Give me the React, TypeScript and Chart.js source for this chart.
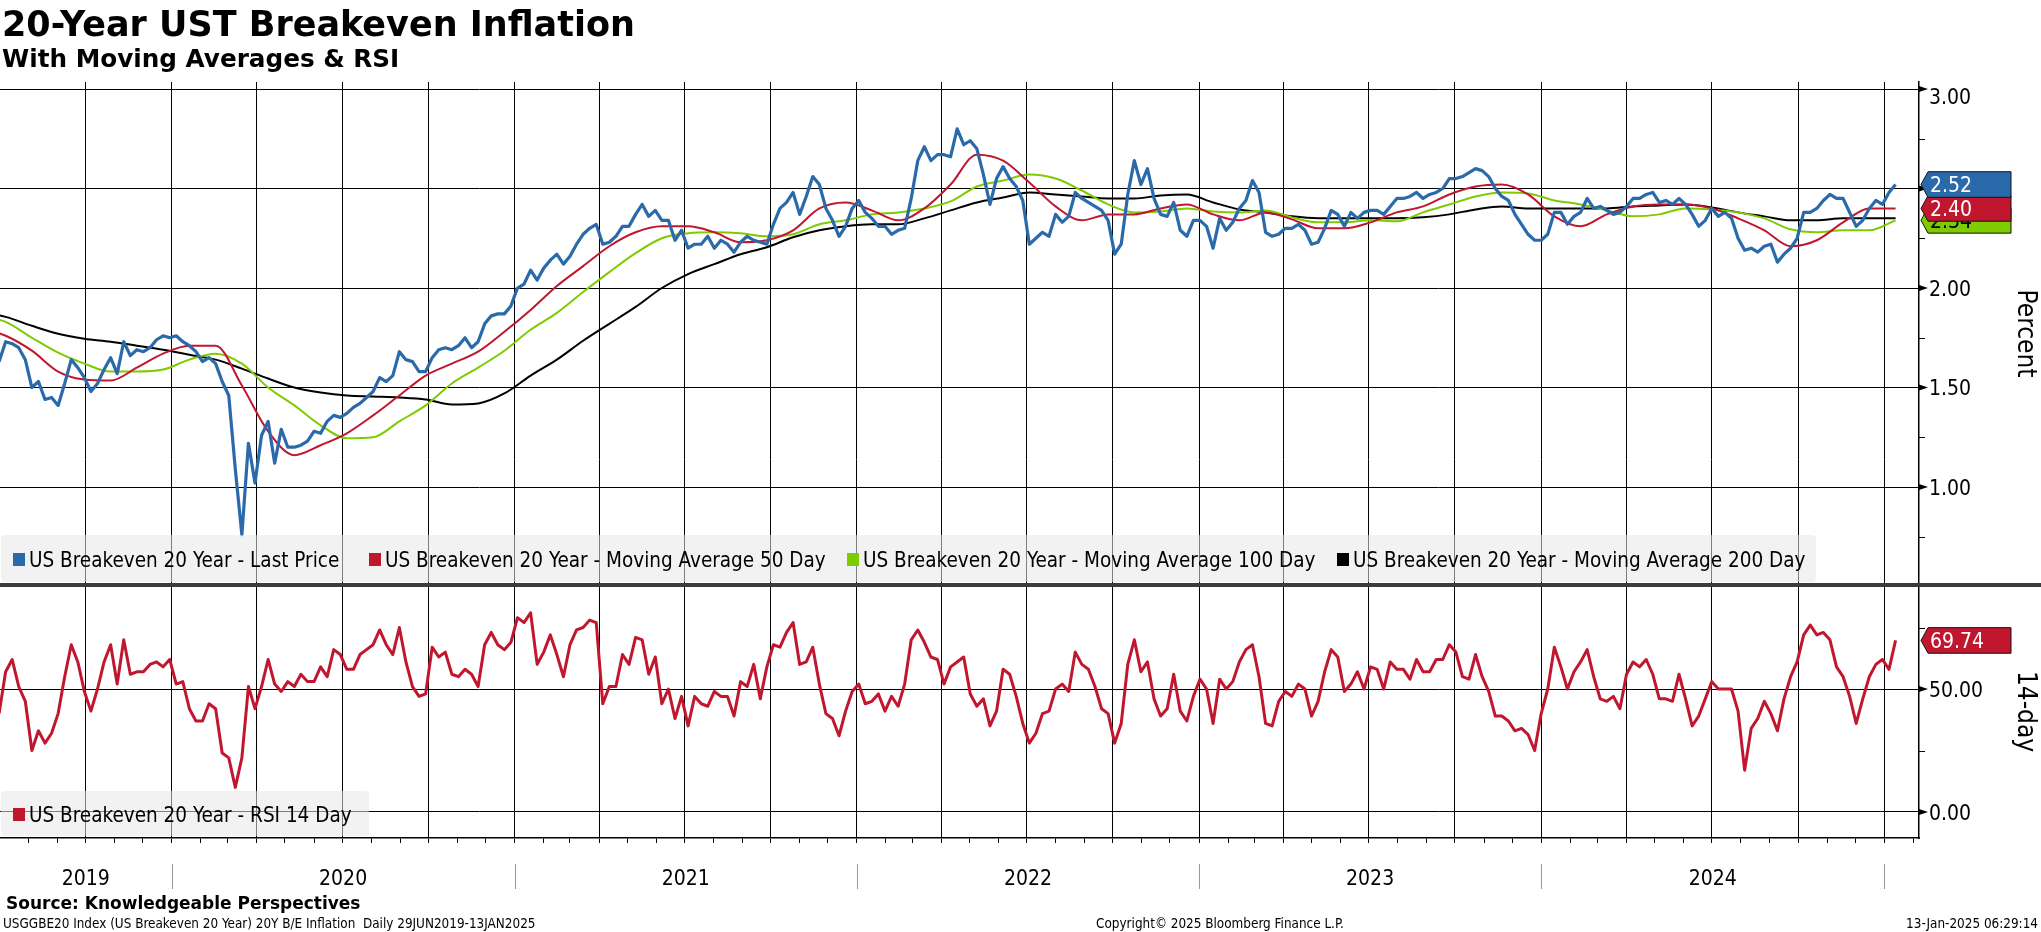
import React, { useEffect, useRef } from 'react';
import { Chart, registerables } from 'chart.js';

Chart.register(...registerables);

// ---------------- data ----------------
// Weekly samples of the daily series, starting on PRICE_START, every PRICE_STEP_DAYS days
const PRICE_START = '2019-07-01';
const PRICE_STEP_DAYS = 7;

const lastPrice = [
  1.63, 1.73, 1.72, 1.70, 1.64, 1.50, 1.53, 1.44, 1.45, 1.41,
  1.52, 1.64, 1.60, 1.55, 1.48, 1.52, 1.59, 1.65, 1.57, 1.73,
  1.66, 1.69, 1.68, 1.70, 1.74, 1.76, 1.75, 1.76, 1.73, 1.71,
  1.68, 1.63, 1.65, 1.62, 1.53, 1.46, 1.09, 0.76, 1.22, 1.02,
  1.26, 1.33, 1.12, 1.29, 1.20, 1.20, 1.21, 1.23, 1.28, 1.27,
  1.33, 1.36, 1.35, 1.37, 1.40, 1.42, 1.45, 1.48, 1.55, 1.53,
  1.56, 1.68, 1.64, 1.63, 1.58, 1.58, 1.65, 1.69, 1.70, 1.69,
  1.71, 1.75, 1.70, 1.73, 1.82, 1.86, 1.87, 1.87, 1.91, 2.00,
  2.02, 2.09, 2.04, 2.10, 2.14, 2.17, 2.12, 2.16, 2.22, 2.27,
  2.30, 2.32, 2.22, 2.23, 2.26, 2.31, 2.31, 2.37, 2.42, 2.36,
  2.39, 2.34, 2.34, 2.24, 2.29, 2.20, 2.22, 2.22, 2.26, 2.20,
  2.24, 2.22, 2.18, 2.23, 2.26, 2.24, 2.23, 2.22, 2.32, 2.40,
  2.43, 2.48, 2.37, 2.46, 2.56, 2.52, 2.40, 2.34, 2.26, 2.31,
  2.40, 2.44, 2.38, 2.35, 2.31, 2.31, 2.27, 2.29, 2.30, 2.45,
  2.64, 2.71, 2.64, 2.67, 2.67, 2.66, 2.80, 2.72, 2.74, 2.70,
  2.57, 2.42, 2.55, 2.61, 2.55, 2.51, 2.44, 2.22, 2.25, 2.28,
  2.26, 2.37, 2.33, 2.36, 2.48, 2.45, 2.43, 2.41, 2.39, 2.34,
  2.17, 2.22, 2.47, 2.64, 2.52, 2.60, 2.45, 2.37, 2.36, 2.43,
  2.29, 2.26, 2.34, 2.34, 2.31, 2.20, 2.35, 2.29, 2.33, 2.40,
  2.44, 2.54, 2.48, 2.28, 2.26, 2.27, 2.30, 2.30, 2.32, 2.29,
  2.22, 2.23, 2.30, 2.39, 2.37, 2.31, 2.38, 2.35, 2.38, 2.39,
  2.39, 2.37, 2.41, 2.45, 2.45, 2.46, 2.48, 2.45, 2.47, 2.48,
  2.50, 2.55, 2.55, 2.56, 2.58, 2.60, 2.59, 2.56, 2.50, 2.46,
  2.44, 2.37, 2.32, 2.27, 2.24, 2.24, 2.27, 2.38, 2.38, 2.32,
  2.36, 2.38, 2.45, 2.40, 2.41, 2.39, 2.37, 2.38, 2.41, 2.45,
  2.45, 2.47, 2.48, 2.43, 2.44, 2.42, 2.45, 2.42, 2.37, 2.31,
  2.34, 2.40, 2.36, 2.38, 2.35, 2.25, 2.19, 2.20, 2.18, 2.21,
  2.22, 2.13, 2.17, 2.20, 2.25, 2.38, 2.38, 2.40, 2.44, 2.47,
  2.45, 2.45, 2.38, 2.31, 2.34, 2.40, 2.44, 2.42, 2.48, 2.52,
];

const rsi14 = [
  40, 57, 62, 51, 45, 25, 33, 28, 32, 40,
  55, 68, 61, 49, 41, 50, 61, 68, 52, 70,
  56, 57, 57, 60, 61, 59, 62, 52, 53, 42,
  37, 37, 44, 42, 24, 22, 10, 22, 51, 42,
  51, 62, 52, 49, 53, 51, 56, 53, 53, 59,
  55, 66, 64, 58, 58, 64, 66, 68, 74, 68,
  64, 75, 61, 51, 47, 48, 67, 63, 65, 56,
  55, 58, 56, 51, 68, 73, 68, 66, 69, 79,
  77, 81, 60, 65, 72, 64, 55, 68, 74, 75,
  78, 77, 44, 51, 51, 64, 60, 71, 70, 56,
  63, 44, 50, 38, 47, 35, 47, 44, 43, 49,
  47, 47, 39, 53, 51, 60, 46, 59, 68, 67,
  73, 77, 60, 61, 67, 52, 40, 38, 31, 41,
  49, 52, 44, 45, 48, 41, 47, 43, 52, 70,
  74, 69, 63, 62, 52, 59, 61, 63, 48, 43,
  46, 35, 41, 58, 56, 47, 36, 28, 32, 40,
  41, 50, 52, 49, 65, 60, 58, 51, 42, 40,
  28, 36, 60, 70, 57, 61, 46, 39, 42, 56,
  41, 37, 47, 54, 50, 36, 54, 50, 53, 61,
  66, 68, 55, 36, 35, 45, 49, 47, 52, 50,
  39, 45, 57, 66, 63, 49, 52, 57, 50, 59,
  58, 50, 61, 58, 58, 54, 62, 57, 57, 62,
  62, 68, 65, 55, 54, 64, 55, 49, 39, 39,
  37, 33, 34, 31.5, 25, 40, 50, 67, 59, 50,
  57, 61, 66, 55, 46, 45, 47, 42, 56, 61,
  59, 62, 56, 46, 46, 45, 56, 46, 35, 39,
  46, 53, 50, 50, 50, 41, 17, 34, 38, 45,
  40, 33, 46, 55, 61, 72, 76, 72, 73, 70,
  59, 55, 47, 36, 46, 55, 60, 62, 58, 69.74,
];

// Moving averages sampled every MA_STEP_DAYS days from MA_START
const MA_START = '2019-06-10';
const MA_STEP_DAYS = 28;

const ma50 = [
  1.80, 1.76, 1.685, 1.58, 1.54, 1.535, 1.60, 1.67, 1.71, 1.71,
  1.51, 1.28, 1.16, 1.21, 1.27, 1.36, 1.46, 1.56, 1.62, 1.68,
  1.78, 1.89, 2.01, 2.11, 2.21, 2.28, 2.31, 2.31, 2.28, 2.23,
  2.24, 2.29, 2.40, 2.43, 2.39, 2.34, 2.40, 2.52, 2.67, 2.64,
  2.53, 2.41, 2.34, 2.37, 2.37, 2.40, 2.42, 2.37, 2.34, 2.38,
  2.345, 2.30, 2.30, 2.33, 2.38, 2.41, 2.47, 2.51, 2.52, 2.47,
  2.36, 2.31, 2.37, 2.41, 2.42, 2.42, 2.40, 2.35, 2.29, 2.21,
  2.24, 2.33, 2.40, 2.40,
];

const ma100 = [
  1.86, 1.83, 1.75, 1.675, 1.62, 1.58, 1.58, 1.59, 1.64, 1.67,
  1.62, 1.50, 1.41, 1.31, 1.245, 1.25, 1.33, 1.41, 1.52, 1.60,
  1.685, 1.79, 1.875, 1.98, 2.08, 2.175, 2.25, 2.275, 2.28, 2.275,
  2.26, 2.27, 2.32, 2.34, 2.37, 2.38, 2.40, 2.435, 2.51, 2.54,
  2.57, 2.55, 2.49, 2.42, 2.38, 2.385, 2.40, 2.385, 2.38, 2.39,
  2.355, 2.33, 2.33, 2.34, 2.335, 2.38, 2.42, 2.46, 2.48, 2.475,
  2.44, 2.42, 2.39, 2.36, 2.37, 2.40, 2.395, 2.38, 2.35, 2.295,
  2.28, 2.29, 2.29, 2.34,
];

const ma200 = [
  1.88, 1.855, 1.81, 1.77, 1.745, 1.73, 1.71, 1.69, 1.665, 1.64,
  1.595, 1.545, 1.50, 1.475, 1.46, 1.455, 1.45, 1.44, 1.415, 1.42,
  1.47, 1.56, 1.64, 1.735, 1.82, 1.905, 2.00, 2.07, 2.12, 2.17,
  2.205, 2.255, 2.29, 2.31, 2.32, 2.32, 2.35, 2.39, 2.43, 2.455,
  2.48, 2.47, 2.46, 2.45, 2.45, 2.465, 2.47, 2.43, 2.395, 2.38,
  2.36, 2.35, 2.35, 2.35, 2.35, 2.355, 2.37, 2.395, 2.41, 2.40,
  2.40, 2.40, 2.40, 2.41, 2.415, 2.42, 2.405, 2.38, 2.36, 2.34,
  2.34, 2.35, 2.35, 2.35,
];

// axis settings
const X_START = '2019-07-02';
const X_END = '2025-02-07';
const PRICE_MIN = 0.5076;
const PRICE_MAX = 3.0352;
const RSI_MIN = -10.57;
const RSI_MAX = 92.28;
const PRICE_TICKS = [0.75, 1.0, 1.25, 1.5, 1.75, 2.0, 2.25, 2.5, 2.75, 3.0];
const RSI_TICKS = [0, 25, 50, 75];
const YEARS = [2019, 2020, 2021, 2022, 2023, 2024, 2025];

const SERIES_NAMES = [
  'US Breakeven 20 Year - Last Price',
  'US Breakeven 20 Year - Moving Average 50 Day',
  'US Breakeven 20 Year - Moving Average 100 Day',
  'US Breakeven 20 Year - Moving Average 200 Day',
];
const RSI_NAME = 'US Breakeven 20 Year - RSI 14 Day';
const TITLE = '20-Year UST Breakeven Inflation';
const SUBTITLE = 'With Moving Averages & RSI';
const SOURCE = 'Source: Knowledgeable Perspectives';
const FOOT_LEFT = 'USGGBE20 Index (US Breakeven 20 Year) 20Y B/E Inflation  Daily 29JUN2019-13JAN2025';
const FOOT_MID = 'Copyright\u00A9 2025 Bloomberg Finance L.P.';
const FOOT_RIGHT = '13-Jan-2025 06:29:14';
const AXIS_TITLE_PRICE = 'Percent';
const AXIS_TITLE_RSI = '14-day';

// ---------------- styling ----------------
const BLUE = '#2a6aab';
const RED = '#c0172f';
const GREEN = '#7dcb00';
const BLACK = '#000000';
const FONT_C = '"DejaVu Sans Condensed", "DejaVu Sans", sans-serif';
const FONT_B = '"DejaVu Sans", sans-serif';

const DAY_MS = 86400000;
function toDay(iso: string): number {
  const [y, m, d] = iso.split('-').map(Number);
  return Date.UTC(y, m - 1, d) / DAY_MS;
}
function points(start: string, step: number, values: number[]) {
  const d0 = toDay(start);
  return values.map((v, i) => ({ x: d0 + i * step, y: v }));
}
function monthTicks(minDay: number, maxDay: number): number[] {
  const out: number[] = [];
  for (let y = 2019; y <= 2025; y++) {
    for (let m = 0; m < 12; m++) {
      const d = Date.UTC(y, m, 1) / DAY_MS;
      if (d >= minDay && d <= maxDay) out.push(d);
    }
  }
  return out;
}
function isQuarterStart(day: number): boolean {
  const dt = new Date(Math.round(day) * DAY_MS);
  return dt.getUTCDate() === 1 && dt.getUTCMonth() % 3 === 0;
}

function drawTag(ctx: CanvasRenderingContext2D, x: number, y: number, right: number, text: string, fill: string, color: string) {
  const half = 12.8;
  const tip = 7;
  ctx.beginPath();
  ctx.moveTo(x, y);
  ctx.lineTo(x + tip, y - half);
  ctx.lineTo(right, y - half);
  ctx.lineTo(right, y + half);
  ctx.lineTo(x + tip, y + half);
  ctx.closePath();
  ctx.fillStyle = fill;
  ctx.fill();
  ctx.lineWidth = 1;
  ctx.strokeStyle = '#141414';
  ctx.stroke();
  ctx.fillStyle = color;
  ctx.font = `21px ${FONT_C}`;
  ctx.textAlign = 'left';
  ctx.textBaseline = 'alphabetic';
  ctx.fillText(text, x + 9, y + 7.6);
}

function drawAxisMarks(ctx: CanvasRenderingContext2D, scale: any, ticks: number[], majorStep: number) {
  const ax = scale.left;
  ctx.font = `21px ${FONT_C}`;
  ctx.textAlign = 'left';
  ctx.textBaseline = 'alphabetic';
  for (const v of ticks) {
    const y = scale.getPixelForValue(v);
    const major = Math.abs(v / majorStep - Math.round(v / majorStep)) < 1e-6;
    ctx.fillStyle = BLACK;
    ctx.strokeStyle = BLACK;
    if (major) {
      ctx.beginPath();
      ctx.moveTo(ax, y - 3);
      ctx.lineTo(ax + 9, y);
      ctx.lineTo(ax, y + 3);
      ctx.closePath();
      ctx.fill();
      const base = y - 7.6 < scale.top + 1 ? y + 15 : y + 7.6;
      ctx.fillText(v.toFixed(2), ax + 10, base);
    } else {
      ctx.lineWidth = 1;
      ctx.beginPath();
      ctx.moveTo(ax, Math.round(y) + 0.5);
      ctx.lineTo(ax + 6, Math.round(y) + 0.5);
      ctx.stroke();
    }
  }
}

function drawLegend(ctx: CanvasRenderingContext2D, box: number[], items: { x: number; color: string; text: string }[], baseline: number) {
  const [bx, by, bw, bh] = box;
  ctx.fillStyle = 'rgba(231,231,231,0.55)';
  ctx.beginPath();
  (ctx as any).roundRect(bx, by, bw, bh, 4);
  ctx.fill();
  ctx.font = `20.5px ${FONT_C}`;
  ctx.textAlign = 'left';
  ctx.textBaseline = 'alphabetic';
  for (const it of items) {
    ctx.fillStyle = it.color;
    ctx.fillRect(it.x, baseline - 14, 12, 13);
    ctx.fillStyle = '#000';
    ctx.fillText(it.text, it.x + 16, baseline);
  }
}

const decorPlugin = {
  id: 'bbgDecor',
  afterDatasetsDraw(chart: any) {
    const ctx: CanvasRenderingContext2D = chart.ctx;
    const yp = chart.scales.yPx;
    const yr = chart.scales.yRsi;
    ctx.save();
    drawLegend(
      ctx,
      [1, yp.bottom - 50, 1815, 47],
      [
        { x: 13, color: BLUE, text: SERIES_NAMES[0] },
        { x: 369, color: RED, text: SERIES_NAMES[1] },
        { x: 847, color: GREEN, text: SERIES_NAMES[2] },
        { x: 1337, color: BLACK, text: SERIES_NAMES[3] },
      ],
      yp.bottom - 18
    );
    drawLegend(ctx, [1, yr.bottom - 47, 368, 45], [{ x: 13, color: RED, text: RSI_NAME }], yr.bottom - 16);
    ctx.restore();
  },
  afterDraw(chart: any) {
    const ctx: CanvasRenderingContext2D = chart.ctx;
    const xs = chart.scales.x;
    const yp = chart.scales.yPx;
    const yr = chart.scales.yRsi;
    ctx.save();
    // panel separator
    ctx.fillStyle = '#3b3b3b';
    ctx.fillRect(0, yp.bottom - 2, chart.width, 4);

    // right axis marks and labels
    drawAxisMarks(ctx, yp, PRICE_TICKS, 0.5);
    drawAxisMarks(ctx, yr, RSI_TICKS, 50);

    // axis titles (rotated clockwise)
    ctx.fillStyle = BLACK;
    ctx.font = `26px ${FONT_C}`;
    ctx.textAlign = 'center';
    ctx.textBaseline = 'alphabetic';
    const titleX = yp.left + 99;
    [[AXIS_TITLE_PRICE, (yp.top + yp.bottom) / 2], [AXIS_TITLE_RSI, (yr.top + yr.bottom) / 2]].forEach(([t, cy]) => {
      ctx.save();
      ctx.translate(titleX, cy as number);
      ctx.rotate(Math.PI / 2);
      ctx.fillText(t as string, 0, 0);
      ctx.restore();
    });

    // year labels and separators under the time axis
    const x0 = xs.min;
    const x1 = xs.max;
    ctx.font = `21px ${FONT_C}`;
    ctx.textAlign = 'center';
    for (const yv of YEARS) {
      const j = toDay(`${yv}-01-01`);
      const k = toDay(`${yv + 1}-01-01`);
      const s = Math.max(x0, j);
      const e = Math.min(x1, k);
      if (e - s > 90) {
        ctx.fillStyle = BLACK;
        ctx.fillText(String(yv), xs.getPixelForValue((s + e) / 2), xs.top + 47);
      }
      if (j > x0 && j < x1) {
        const px = Math.round(xs.getPixelForValue(j)) + 0.5;
        ctx.strokeStyle = '#9a9a9a';
        ctx.lineWidth = 1;
        ctx.beginPath();
        ctx.moveTo(px, xs.top + 26);
        ctx.lineTo(px, xs.top + 51);
        ctx.stroke();
      }
    }

    // last value tags
    const tagX = yp.left + 2;
    const tagR = yp.left + 92;
    const last = (a: number[]) => a[a.length - 1];
    drawTag(ctx, tagX, yp.getPixelForValue(last(ma100)), tagR, last(ma100).toFixed(2), GREEN, '#000');
    drawTag(ctx, tagX, yp.getPixelForValue(last(ma50)), tagR, last(ma50).toFixed(2), RED, '#fff');
    drawTag(ctx, tagX, yp.getPixelForValue(last(lastPrice)), tagR, last(lastPrice).toFixed(2), BLUE, '#fff');
    drawTag(ctx, tagX, yr.getPixelForValue(last(rsi14)), tagR, last(rsi14).toFixed(2), RED, '#fff');
    ctx.restore();
  },
};

export default function App() {
  const ref = useRef<HTMLCanvasElement>(null);

  useEffect(() => {
    const canvas = ref.current;
    if (!canvas) return;
    const xMin = toDay(X_START);
    const xMax = toDay(X_END);
    const months = monthTicks(xMin, xMax);

    const chart = new Chart(canvas, {
      type: 'line',
      data: {
        datasets: [
          { label: SERIES_NAMES[0], data: points(PRICE_START, PRICE_STEP_DAYS, lastPrice), yAxisID: 'yPx', borderColor: BLUE, borderWidth: 3.2, pointRadius: 0, tension: 0, borderJoinStyle: 'round' },
          { label: SERIES_NAMES[1], data: points(MA_START, MA_STEP_DAYS, ma50), yAxisID: 'yPx', borderColor: RED, borderWidth: 2, pointRadius: 0, cubicInterpolationMode: 'monotone' },
          { label: SERIES_NAMES[2], data: points(MA_START, MA_STEP_DAYS, ma100), yAxisID: 'yPx', borderColor: GREEN, borderWidth: 2, pointRadius: 0, cubicInterpolationMode: 'monotone' },
          { label: SERIES_NAMES[3], data: points(MA_START, MA_STEP_DAYS, ma200), yAxisID: 'yPx', borderColor: BLACK, borderWidth: 2, pointRadius: 0, cubicInterpolationMode: 'monotone' },
          { label: RSI_NAME, data: points(PRICE_START, PRICE_STEP_DAYS, rsi14), yAxisID: 'yRsi', borderColor: RED, borderWidth: 3, pointRadius: 0, tension: 0, borderJoinStyle: 'round' },
        ] as any,
      },
      options: {
        responsive: false,
        animation: false,
        events: [],
        layout: { padding: { top: 82, left: 0, right: 0, bottom: 0 } },
        plugins: { legend: { display: false }, tooltip: { enabled: false }, title: { display: false } },
        scales: {
          x: {
            type: 'linear',
            position: 'bottom',
            min: xMin,
            max: xMax,
            afterBuildTicks: (s: any) => { s.ticks = months.map((v) => ({ value: v })); },
            afterFit: (s: any) => { s.height = 94; },
            ticks: { display: false },
            grid: {
              color: (c: any) => (c.tick && isQuarterStart(c.tick.value) ? '#000' : 'rgba(0,0,0,0)'),
              tickColor: '#000',
              tickLength: 5,
              lineWidth: 1,
              drawTicks: true,
            },
            border: { display: true, color: '#000', width: 1.5 },
          },
          yPx: {
            type: 'linear',
            position: 'right',
            stack: 'panels',
            stackWeight: 503,
            min: PRICE_MIN,
            max: PRICE_MAX,
            afterBuildTicks: (s: any) => { s.ticks = PRICE_TICKS.map((v) => ({ value: v })); },
            afterFit: (s: any) => { s.width = 122; },
            ticks: { display: false },
            grid: {
              color: (c: any) => (c.tick && Math.abs(c.tick.value * 2 - Math.round(c.tick.value * 2)) < 1e-6 ? '#000' : 'rgba(0,0,0,0)'),
              lineWidth: 1,
              drawTicks: false,
            },
            border: { display: true, color: '#000', width: 1.5 },
          },
          yRsi: {
            type: 'linear',
            position: 'right',
            stack: 'panels',
            stackWeight: 253,
            min: RSI_MIN,
            max: RSI_MAX,
            afterBuildTicks: (s: any) => { s.ticks = RSI_TICKS.map((v) => ({ value: v })); },
            afterFit: (s: any) => { s.width = 122; },
            ticks: { display: false },
            grid: {
              color: (c: any) => (c.tick && c.tick.value % 50 === 0 ? '#000' : 'rgba(0,0,0,0)'),
              lineWidth: 1,
              drawTicks: false,
            },
            border: { display: true, color: '#000', width: 1.5 },
          },
        } as any,
      },
      plugins: [decorPlugin as any],
    });
    return () => chart.destroy();
  }, []);

  const baseText: React.CSSProperties = { position: 'absolute', whiteSpace: 'pre', lineHeight: 1, color: '#000', margin: 0 };
  return (
    <div style={{ position: 'absolute', left: 0, top: 0, width: 2041, height: 932, background: '#fff', overflow: 'hidden' }}>
      <canvas ref={ref} width={2041} height={932} style={{ position: 'absolute', left: 0, top: 0, width: 2041, height: 932 }} />
      <div style={{ ...baseText, left: 2, top: 7.4, fontFamily: FONT_B, fontWeight: 700, fontSize: 35 }}>{TITLE}</div>
      <div style={{ ...baseText, left: 2, top: 47, fontFamily: FONT_B, fontWeight: 700, fontSize: 24.7 }}>{SUBTITLE}</div>
      <div style={{ ...baseText, left: 6, top: 894.6, fontFamily: FONT_B, fontWeight: 700, fontSize: 17 }}>{SOURCE}</div>
      <div style={{ ...baseText, left: 3, top: 916.8, fontFamily: FONT_C, fontSize: 13.4 }}>{FOOT_LEFT}</div>
      <div style={{ ...baseText, left: 1020, width: 400, textAlign: 'center', top: 916.8, fontFamily: FONT_C, fontSize: 13.4 }}>{FOOT_MID}</div>
      <div style={{ ...baseText, right: 3, textAlign: 'right', top: 916.8, fontFamily: FONT_C, fontSize: 13.4 }}>{FOOT_RIGHT}</div>
    </div>
  );
}
